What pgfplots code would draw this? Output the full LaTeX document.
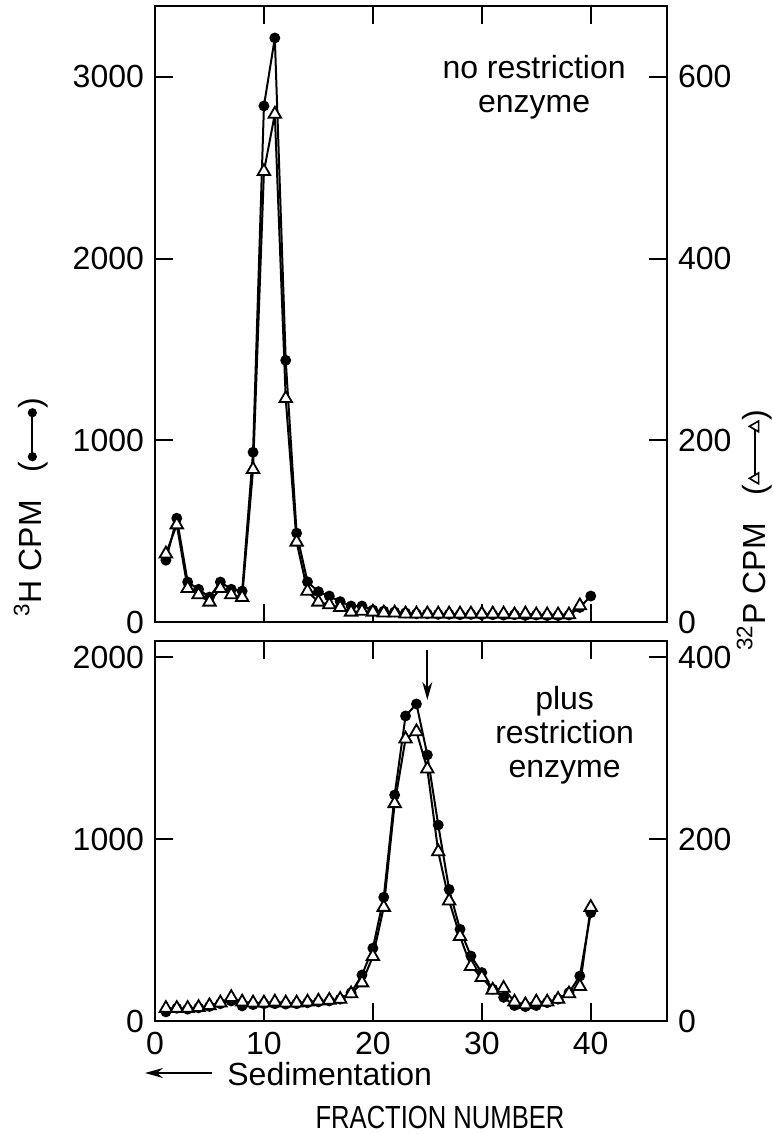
\documentclass[border=0pt]{standalone}
\usepackage{fontspec}
\setmainfont{Liberation Sans}
\usepackage{pgfplots}
\pgfplotsset{compat=1.18}
\usetikzlibrary{arrows.meta}

\pgfplotsset{
  panel/.style={
    scale only axis, width=256pt,
    xmin=0, xmax=47,
    axis line style={line width=1.2pt},
    tick style={line width=1pt, black},
    major tick length=9pt,
    tick align=inside,
    /pgf/number format/assume math mode=true,
    /pgf/number format/1000 sep={},
    tick label style={font=\fontsize{16}{17}\selectfont},
  },
  h3/.style={black, line width=1pt, mark=*, mark size=2.2pt,
    mark options={solid, fill=black}},
  p32/.style={black, line width=1pt, mark=triangle*, mark size=3.6pt,
    mark options={solid, fill=white, line width=0.9pt}},
}

\newsavebox\dotkey
\newsavebox\trikey

\begin{document}%
\fontsize{16}{17}\selectfont%
% key symbols used inside the rotated axis titles
\sbox\dotkey{\tikz[baseline=-4.8pt]{\draw[line width=1pt] (0,0) -- (22pt,0);
  \fill (0,0) circle (2.3pt) (22pt,0) circle (2.3pt);}}%
\sbox\trikey{\tikz[baseline=-4.8pt]{\draw[line width=1pt] (0,0) -- (26pt,0);
  \foreach \x in {0pt,26pt} \draw[fill=white, line width=0.8pt]
    ([shift={(\x,0)}]0,3pt) -- ([shift={(\x,0)}]-2.7pt,-1.6pt) -- ([shift={(\x,0)}]2.7pt,-1.6pt) -- cycle;}}%
\begin{tikzpicture}[font=\fontsize{16}{17}\selectfont]
\useasboundingbox (-77.5pt,-256pt) rectangle (308.5pt,311pt);

% ---- top panel: no restriction enzyme
\begin{axis}[panel, at={(0pt,0pt)}, anchor=south west, height=308pt,
  ymin=0, ymax=3390, ytick={0,1000,2000,3000}, ytick pos=left,
  xtick={10,20,30,40}, xtick pos=both, xticklabel=\empty]
\addplot[h3] table {
f v
1 340
2 571
3 220
4 180
5 137
6 220
7 180
8 170
9 934
10 2840
11 3214
12 1440
13 489
14 221
15 167
16 143
17 112
18 88
19 88
20 66
21 60
22 55
23 50
24 45
25 45
26 42
27 42
28 40
29 42
30 40
31 40
32 38
33 40
34 36
35 38
36 35
37 35
38 38
39 80
40 143
};
\node[align=center] at (axis cs:34.8,2942) {no restriction\\enzyme};
\end{axis}

\begin{axis}[panel, at={(0pt,0pt)}, anchor=south west, height=308pt,
  ymin=0, ymax=678, ytick={0,200,400,600},
  axis y line*=right, axis x line=none]
\addplot[p32] table {
f v
1 75
2 107
3 37
4 30
5 22
6 37
7 30
8 27
9 168
10 496
11 559
12 246
13 88
14 34
15 22
16 19
17 16
18 11
19 12
20 11
21 10
22 10
23 9
24 9
25 9
26 9
27 9
28 9
29 9
30 9
31 9
32 9
33 8
34 9
35 8
36 8
37 8
38 8
39 18
};
\end{axis}

% ---- bottom panel: plus restriction enzyme
\begin{axis}[panel, at={(0pt,-9.5pt)}, anchor=north west, height=190pt,
  ymin=0, ymax=2088, ytick={0,1000,2000}, ytick pos=left,
  xtick={0,10,20,30,40}, xtick pos=both]
\addplot[h3] table {
f v
1 50
2 70
3 65
4 72
5 80
6 95
7 110
8 83
9 90
10 95
11 95
12 93
13 95
14 100
15 105
16 110
17 120
18 155
19 253
20 400
21 680
22 1242
23 1676
24 1742
25 1462
26 1077
27 723
28 504
29 357
30 266
31 175
32 130
33 85
34 79
35 85
36 101
37 120
38 156
39 247
40 595
};
\node[align=center] at (axis cs:37.6,1571) {plus\\restriction\\enzyme};
\draw[line width=1pt, -{Stealth[length=9pt,width=5pt]}] (axis cs:25,2038) -- (axis cs:25,1764);
\end{axis}

\begin{axis}[panel, at={(0pt,-9.5pt)}, anchor=north west, height=190pt,
  ymin=0, ymax=417.6, ytick={0,200,400},
  axis y line*=right, axis x line=none]
\addplot[p32] table {
f v
1 14
2 14
3 14
4 15
5 17
6 20
7 26
8 21
9 20
10 20
11 21
12 20
13 20
14 21
15 22
16 23
17 24
18 30
19 42
20 71
21 125
22 239
23 310
24 318
25 277
26 186
27 132
28 93
29 60
30 48
31 34
32 36
33 21
34 18
35 21
36 21
37 24
38 30
39 38
40 125
};
\end{axis}

% axis titles outside the panels
\node[rotate=90, anchor=base, inner sep=0pt] at (-56.5pt,57.5pt)
  {\textsuperscript{3}H CPM\hspace{14pt}(\usebox\dotkey)};
\node[rotate=90, anchor=base, inner sep=0pt] at (305pt,46pt)
  {\textsuperscript{32}P CPM\hspace{14pt}(\usebox\trikey)};
\draw[line width=1pt, -{Stealth[length=9pt,width=5pt]}] (28.5pt,-225.5pt) -- (-5pt,-225.5pt);
\node[anchor=base west, inner sep=0pt] at (36pt,-231.5pt) {Sedimentation};
\node[anchor=base, inner sep=0pt] at (142.5pt,-253.3pt) {\scalebox{0.8}[1]{FRACTION NUMBER}};
\end{tikzpicture}%
\end{document}
